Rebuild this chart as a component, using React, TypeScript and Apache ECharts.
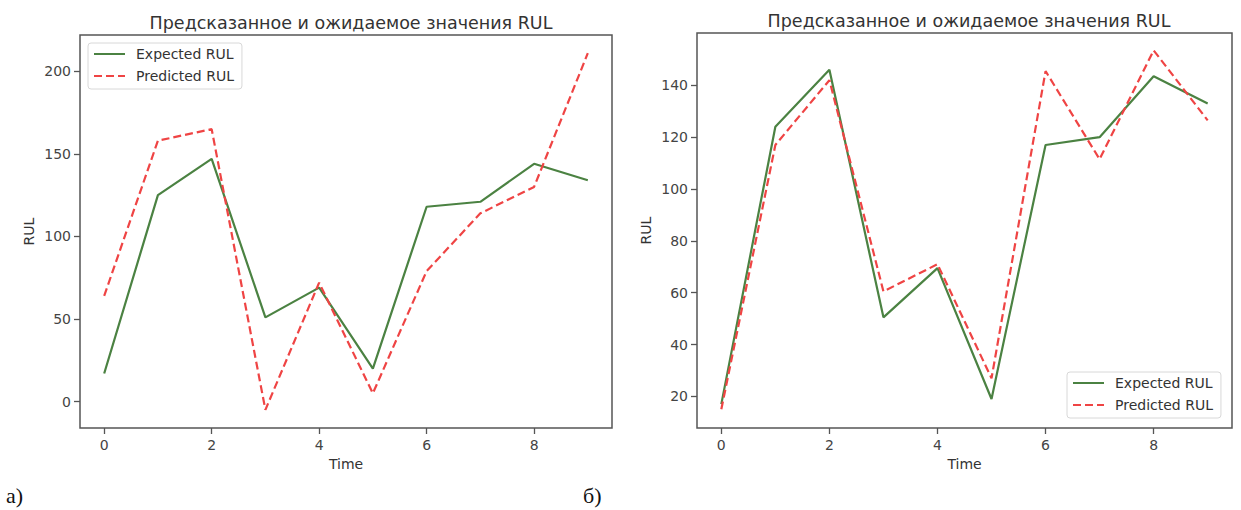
import React, { useEffect, useRef } from "react";
import * as echarts from "echarts";

const time = [0, 1, 2, 3, 4, 5, 6, 7, 8, 9];
const expectedA = [17, 125, 147, 51, 69, 20, 118, 121, 144, 134];
const predictedA = [64, 158, 165, -5, 72, 5, 79, 114, 130, 211];
const expectedB = [17, 124, 146, 50.5, 69.5, 19, 117, 120, 143.5, 133];
const predictedB = [15, 117, 142, 60.5, 71, 27, 145.5, 111.5, 153.5, 126.5];
const xTicks = [0, 2, 4, 6, 8];
const yTicksA = [0, 50, 100, 150, 200];
const yTicksB = [20, 40, 60, 80, 100, 120, 140];
const titleText = "Предсказанное и ожидаемое значения RUL";
const seriesNames = ["Expected RUL", "Predicted RUL"];

const GREEN = "#4b8242";
const RED = "#ef4444";
const FONT = "DejaVu Sans";

function pairs(ys: number[]) {
  return time.map((t, i) => [t, ys[i]]);
}

export default function App() {
  const ref = useRef<HTMLDivElement>(null);
  useEffect(() => {
    document.body.style.margin = "0";
    if (!ref.current) return;
    const chart = echarts.init(ref.current, undefined, { renderer: "svg" });
    const xAxisBase = (gridIndex: number) => ({
      type: "value",
      gridIndex,
      position: "bottom",
      min: -0.45,
      max: 9.45,
      name: "Time",
      nameLocation: "middle",
      nameGap: 29,
      nameTextStyle: { fontFamily: FONT, fontSize: 14, color: "#333" },
      splitLine: { show: false },
      axisLine: { show: false, onZero: false },
      axisTick: { show: true, length: 6, customValues: xTicks, lineStyle: { color: "#555", width: 1.3 } },
      axisLabel: { customValues: xTicks, margin: 10, fontFamily: FONT, fontSize: 14, color: "#444" },
    });
    const yAxisBase = (gridIndex: number, min: number, max: number, ticks: number[]) => ({
      type: "value",
      gridIndex,
      position: "left",
      min,
      max,
      name: "RUL",
      nameLocation: "middle",
      nameRotate: 90,
      nameGap: 44,
      nameTextStyle: { fontFamily: FONT, fontSize: 14, color: "#333" },
      splitLine: { show: false },
      axisLine: { show: false, onZero: false },
      axisTick: { show: true, length: 6, customValues: ticks, lineStyle: { color: "#555", width: 1.3 } },
      axisLabel: { customValues: ticks, margin: 9, fontFamily: FONT, fontSize: 14, color: "#444" },
    });
    const lineSeries = (name: string, data: number[], idx: number, dashed: boolean) => ({
      name,
      type: "line",
      xAxisIndex: idx,
      yAxisIndex: idx,
      data: pairs(data),
      symbol: "none",
      showSymbol: false,
      z: dashed ? 3 : 2,
      itemStyle: { color: dashed ? RED : GREEN },
      lineStyle: dashed
        ? { color: RED, width: 2.2, type: [8, 4] }
        : { color: GREEN, width: 2.2 },
    });
    const legendBase = (left: number, top: number) => ({
      left,
      top,
      orient: "vertical",
      data: seriesNames,
      itemWidth: 31,
      itemHeight: 14,
      itemGap: 8,
      padding: [4, 8, 6, 5],
      backgroundColor: "#fff",
      borderColor: "#d8d8d8",
      borderWidth: 1,
      borderRadius: 3,
      selectedMode: false,
      itemStyle: { opacity: 0 },
      textStyle: { fontFamily: FONT, fontSize: 14, color: "#333", padding: [0, 0, 0, 6] },
    });
    chart.setOption({
      animation: false,
      backgroundColor: "#fff",
      title: [
        {
          text: titleText,
          left: 346,
          top: 9,
          textAlign: "center",
          textStyle: { fontFamily: FONT, fontSize: 17.5, fontWeight: "normal", color: "#333" },
        },
        {
          text: titleText,
          left: 964,
          top: 7,
          textAlign: "center",
          textStyle: { fontFamily: FONT, fontSize: 17.5, fontWeight: "normal", color: "#333" },
        },
      ],
      grid: [
        { left: 80, top: 35, width: 532, height: 393, show: true, borderColor: "#555", borderWidth: 1.5, backgroundColor: "#fff" },
        { left: 697, top: 33, width: 535, height: 395, show: true, borderColor: "#555", borderWidth: 1.5, backgroundColor: "#fff" },
      ],
      xAxis: [xAxisBase(0), xAxisBase(1)],
      yAxis: [yAxisBase(0, -16, 222, yTicksA), yAxisBase(1, 7.8, 160.2, yTicksB)],
      legend: [legendBase(88, 43), legendBase(1067, 372)],
      series: [
        lineSeries(seriesNames[0], expectedA, 0, false),
        lineSeries(seriesNames[1], predictedA, 0, true),
        lineSeries(seriesNames[0], expectedB, 1, false),
        lineSeries(seriesNames[1], predictedB, 1, true),
      ],
      graphic: [
        {
          type: "text",
          left: 6,
          top: 484,
          style: { text: "а)", font: '22px "Liberation Serif"', fill: "#111" },
        },
        {
          type: "text",
          left: 583,
          top: 484,
          style: { text: "б)", font: '22px "Liberation Serif"', fill: "#111" },
        },
      ],
    });
    return () => chart.dispose();
  }, []);
  return <div ref={ref} style={{ width: 1241, height: 510 }} />;
}
